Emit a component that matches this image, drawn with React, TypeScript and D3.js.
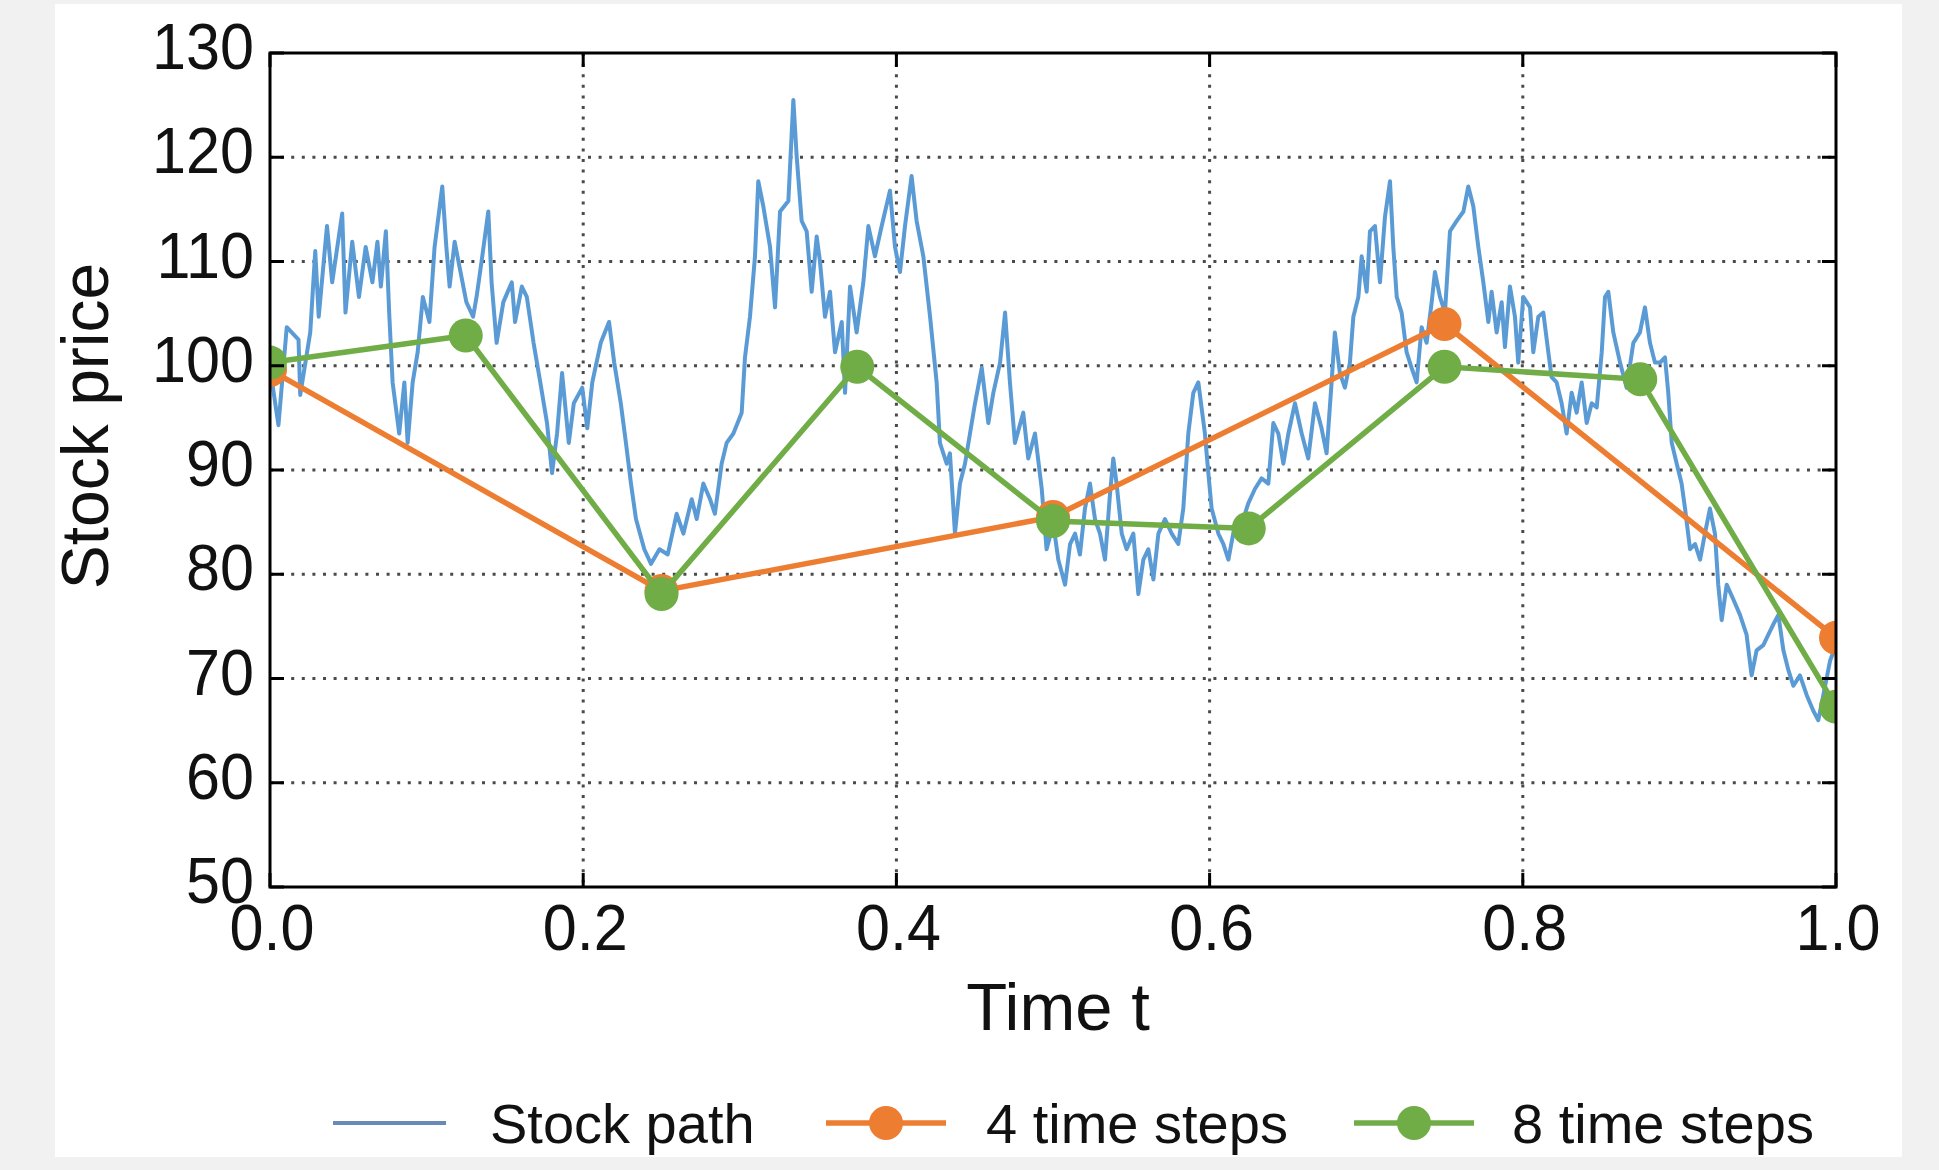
import * as d3 from "d3";

const pathT = [
  0, 0.0054, 0.0107, 0.0182, 0.0193, 0.0257, 0.0289, 0.0311, 0.0364, 0.0397, 0.0461, 0.0482,
  0.0525, 0.0568, 0.0611, 0.0654, 0.0686, 0.0708, 0.074, 0.0761, 0.0783, 0.0825, 0.0858, 0.0879,
  0.0911, 0.0943, 0.0976, 0.1018, 0.1051, 0.11, 0.1126, 0.1147, 0.1179, 0.1254, 0.1297, 0.1319,
  0.1351, 0.1394, 0.1415, 0.1447, 0.149, 0.1544, 0.1565, 0.1608, 0.164, 0.1683, 0.1726, 0.1769,
  0.1801, 0.1833, 0.1865, 0.1908, 0.194, 0.1994, 0.2026, 0.2058, 0.2112, 0.2165, 0.2198, 0.224,
  0.2273, 0.2305, 0.2337, 0.239, 0.2433, 0.2487, 0.254,
  0.2597, 0.264, 0.2693, 0.2725, 0.2767, 0.281, 0.2841, 0.2884, 0.2916, 0.2959, 0.3012, 0.3033,
  0.3065, 0.3097, 0.3118, 0.315, 0.3193, 0.3225, 0.3257, 0.331, 0.3342, 0.3363, 0.3395, 0.3427,
  0.3459, 0.3491, 0.3512, 0.3544, 0.3576, 0.3608, 0.3651, 0.3672, 0.3704, 0.3746, 0.3789, 0.3821,
  0.3863, 0.3906, 0.3959, 0.3991, 0.4023, 0.4055, 0.4097, 0.4129, 0.4172, 0.4215, 0.4257, 0.4278,
  0.4321, 0.4342, 0.4374, 0.4406, 0.4438, 0.447, 0.4502, 0.4545, 0.4587, 0.4619, 0.4662, 0.4694,
  0.4725, 0.4757, 0.481, 0.4842, 0.4885, 0.4928, 0.4959, 0.5002, 0.5034,
  0.5077, 0.5109, 0.5141, 0.5172, 0.5204, 0.5236, 0.5268, 0.53, 0.5332, 0.5364, 0.5385, 0.5406,
  0.5439, 0.547, 0.5513, 0.5545, 0.5577, 0.5609, 0.5641, 0.5673, 0.5715, 0.5758, 0.58, 0.5832,
  0.5864, 0.5896, 0.5928, 0.597, 0.5992, 0.6013, 0.6056, 0.6088, 0.612, 0.6162, 0.6205, 0.6247,
  0.629, 0.6332, 0.6375, 0.6407, 0.6439, 0.6471, 0.6503, 0.6545, 0.6588, 0.663, 0.6673, 0.6715,
  0.6747, 0.6779, 0.68, 0.6832, 0.6864, 0.6896, 0.6918, 0.695, 0.6971, 0.7003, 0.7024, 0.7056,
  0.7088, 0.712, 0.7152, 0.7173, 0.7195, 0.7226, 0.7258, 0.729, 0.7322, 0.7354, 0.7386, 0.7418,
  0.7439, 0.7471, 0.7503, 0.7535,
  0.7578, 0.7621, 0.7652, 0.7684, 0.7716, 0.7748, 0.778, 0.7801, 0.7833, 0.7865, 0.7886, 0.7918,
  0.795, 0.7971, 0.8003, 0.8046, 0.8067, 0.8099, 0.8131, 0.8163, 0.8184, 0.8216, 0.8248, 0.828,
  0.8312, 0.8344, 0.8376, 0.8408, 0.844, 0.8472, 0.8504, 0.8525, 0.8546, 0.8578, 0.8621, 0.8663,
  0.8706, 0.8748, 0.878, 0.8812, 0.8844, 0.8876, 0.8908, 0.8929, 0.8951, 0.8983, 0.9014, 0.9036,
  0.9068, 0.91, 0.9132, 0.9163, 0.9195, 0.9227, 0.9248, 0.927, 0.9302, 0.9344, 0.9387, 0.9429,
  0.9461, 0.9493, 0.9536, 0.9568, 0.96, 0.9632, 0.9664, 0.9696, 0.9728, 0.977, 0.9813, 0.9855,
  0.9887, 0.9919, 0.9962, 1.0,
];
const pathV = [
  99.8, 94.3, 103.7, 102.5, 97.2, 103.2, 111, 104.7, 113.4, 108, 114.6, 105.1,
  111.9, 106.6, 111.4, 108, 111.9, 107.6, 112.9, 105.1, 98.4, 93.5, 98.4, 92.6,
  98.4, 101.3, 106.6, 104.2, 111.4, 117.2, 111.4, 107.6, 111.9, 106.1, 104.7, 106.6,
  110, 114.8, 108, 102.2, 106.1, 108, 104.2, 107.6, 106.6, 102.2, 98.4, 94.5,
  89.7, 93.5, 99.3, 92.6, 96.4, 97.9, 94, 98.4, 102.2, 104.2, 100.3, 96.4,
  92.6, 88.7, 85.3, 82.4, 81, 82.4, 81.9,
  85.8, 83.9, 87.2, 85.3, 88.7, 87.2, 85.8, 90.6, 92.6, 93.5, 95.5, 100.8,
  104.7, 110.5, 117.7, 115.3, 111.4, 105.6, 114.8, 115.8, 125.5, 120.1, 113.9, 112.9,
  107.1, 112.4, 110, 104.7, 107.1, 101.3, 104.2, 97.4, 107.6, 103.2, 108, 113.4,
  110.5, 113.4, 116.8, 111.4, 109, 113.4, 118.2, 113.9, 110.5, 104.7, 98.4, 92.6,
  90.6, 91.6, 83.9, 88.7, 90.6, 93.5, 96.4, 99.8, 94.5, 97.4, 100.3, 105.1,
  98.4, 92.6, 95.5, 91.1, 93.5, 88.2, 82.4, 84.8, 81.4,
  79, 82.9, 83.9, 81.9, 86.3, 88.7, 85.3, 83.9, 81.4, 87.7, 91.1, 88.7,
  83.9, 82.4, 83.9, 78.1, 81.4, 82.4, 79.5, 83.9, 85.3, 83.9, 82.9, 86.3,
  93.5, 97.4, 98.4, 93.5, 89.7, 86.3, 83.9, 82.9, 81.4, 84.8, 84.8, 86.8,
  88.2, 89.2, 88.7, 94.5, 93.5, 90.6, 93.5, 96.4, 93.5, 91.1, 96.4, 94,
  91.6, 98.4, 103.2, 99.3, 97.9, 100.3, 104.7, 106.6, 110.5, 107.1, 112.9, 113.4,
  108, 114.3, 117.7, 111.4, 106.6, 105.1, 101.3, 99.8, 98.4, 103.7, 102.2, 106.1,
  109, 106.6, 105.1, 112.9,
  113.9, 114.8, 117.2, 115.3, 111.4, 108, 104.2, 107.1, 103.2, 106.1, 101.8, 107.6,
  104.7, 100.3, 106.6, 105.6, 101.3, 104.7, 105.1, 101.3, 98.9, 98.4, 96.4, 93.5,
  97.4, 95.5, 98.4, 94.5, 96.4, 96, 101.3, 106.6, 107.1, 103.2, 100.3, 97.9,
  102.2, 103.2, 105.6, 102.2, 100.3, 100.3, 100.8, 97.4, 92.6, 90.6, 88.7, 86.3,
  82.4, 82.9, 81.4, 83.9, 86.3, 83.9, 79, 75.6, 79, 77.6, 76.1, 74.2,
  70.3, 72.7, 73.2, 74.2, 75.2, 76.1, 72.7, 70.8, 69.3, 70.3, 68.4, 66.9,
  66, 68.4, 71.7, 73.2,
];

const steps4T = [0, 0.25, 0.5, 0.75, 1.0];
const steps4V = [99.6, 78.4, 85.5, 104.0, 73.9];
const steps8T = [0, 0.125, 0.25, 0.375, 0.5, 0.625, 0.75, 0.875, 1.0];
const steps8V = [100.3, 102.9, 78.1, 99.9, 85.1, 84.4, 99.9, 98.7, 67.3];

const xTicks = [0, 0.2, 0.4, 0.6, 0.8, 1.0];
const yTicks = [50, 60, 70, 80, 90, 100, 110, 120, 130];
const legendLabels = ["Stock path", "4 time steps", "8 time steps"];

const BLUE = "#5B9BD5";
const ORANGE = "#ED7D31";
const GREEN = "#70AD47";
const FONT = "'Liberation Sans', Arial, Helvetica, sans-serif";

export default function App() {
  const W = 1939, H = 1170;
  const left = 270, right = 1836, top = 53, bottom = 887;

  const x = d3.scaleLinear().domain([0, 1]).range([left, right]);
  const y = d3.scaleLinear().domain([50, 130]).range([bottom, top]);

  const line = d3.line<[number, number]>().x(d => x(d[0])).y(d => y(d[1]));
  const stock = pathT.map((t, i) => [t, pathV[i]] as [number, number]);
  const s4 = steps4T.map((t, i) => [t, steps4V[i]] as [number, number]);
  const s8 = steps8T.map((t, i) => [t, steps8V[i]] as [number, number]);

  const tickLen = 14;
  const legendY = 1123;
  const legend = [
    { x0: 333, x1: 446, tx: 490, color: "#6a8ab5", marker: false, w: 4 },
    { x0: 826, x1: 946, tx: 986, color: ORANGE, marker: true, w: 5.5 },
    { x0: 1354, x1: 1474, tx: 1512, color: GREEN, marker: true, w: 5.5 },
  ];

  return (
    <svg width={W} height={H} style={{ position: "absolute", left: 0, top: 0 }}
      fontFamily={FONT}>
      <rect x={0} y={0} width={W} height={H} fill="#f1f1f1" />
      <rect x={55} y={4} width={1847} height={1153} fill="#ffffff" />
      <defs>
        <clipPath id="plotClip">
          <rect x={left} y={top} width={right - left} height={bottom - top} />
        </clipPath>
      </defs>

      {/* grid */}
      <g stroke="#4a4a4a" strokeWidth={3} strokeDasharray="3,7.6">
        {yTicks.slice(1, -1).map(v => (
          <line key={"gy" + v} x1={left} x2={right} y1={y(v)} y2={y(v)} />
        ))}
        {xTicks.slice(1, -1).map(t => (
          <line key={"gx" + t} y1={top} y2={bottom} x1={x(t)} x2={x(t)} />
        ))}
      </g>

      {/* series */}
      <g clipPath="url(#plotClip)">
        <path d={line(stock) ?? ""} fill="none" stroke={BLUE} strokeWidth={4}
          strokeLinejoin="round" />
        <path d={line(s4) ?? ""} fill="none" stroke={ORANGE} strokeWidth={5.5} />
        {s4.map((d, i) => (
          <circle key={"o" + i} cx={x(d[0])} cy={y(d[1])} r={17} fill={ORANGE} />
        ))}
        <path d={line(s8) ?? ""} fill="none" stroke={GREEN} strokeWidth={5.5} />
        {s8.map((d, i) => (
          <circle key={"g" + i} cx={x(d[0])} cy={y(d[1])} r={17} fill={GREEN} />
        ))}
      </g>

      {/* ticks inward on all sides */}
      <g stroke="#000" strokeWidth={3}>
        {xTicks.map(t => (
          <g key={"tx" + t}>
            <line x1={x(t)} x2={x(t)} y1={bottom} y2={bottom - tickLen} />
            <line x1={x(t)} x2={x(t)} y1={top} y2={top + tickLen} />
          </g>
        ))}
        {yTicks.map(v => (
          <g key={"ty" + v}>
            <line x1={left} x2={left + tickLen} y1={y(v)} y2={y(v)} />
            <line x1={right} x2={right - tickLen} y1={y(v)} y2={y(v)} />
          </g>
        ))}
      </g>
      <rect x={left} y={top} width={right - left} height={bottom - top}
        fill="none" stroke="#000" strokeWidth={3} />

      {/* tick labels */}
      <g fill="#111" fontSize={65}>
        {yTicks.map(v => (
          <text key={"ly" + v} transform={`translate(254,${y(v) + 16}) scale(0.94,1)`}
            textAnchor="end">{v}</text>
        ))}
        {xTicks.map(t => (
          <text key={"lx" + t} transform={`translate(${x(t) + 2},950) scale(0.94,1)`}
            textAnchor="middle">{d3.format(".1f")(t)}</text>
        ))}
      </g>

      {/* axis titles */}
      <text x={1058} y={1030} fontSize={67} textAnchor="middle" fill="#111">Time t</text>
      <text transform="translate(108,426) rotate(-90)" fontSize={66} textAnchor="middle"
        fill="#111">Stock price</text>

      {/* legend */}
      {legend.map((l, i) => (
        <g key={"lg" + i}>
          <line x1={l.x0} x2={l.x1} y1={legendY} y2={legendY} stroke={l.color} strokeWidth={l.w} />
          {l.marker && <circle cx={(l.x0 + l.x1) / 2} cy={legendY} r={17} fill={l.color} />}
          <text x={l.tx} y={1143} fontSize={56} fill="#111">{legendLabels[i]}</text>
        </g>
      ))}
    </svg>
  );
}
